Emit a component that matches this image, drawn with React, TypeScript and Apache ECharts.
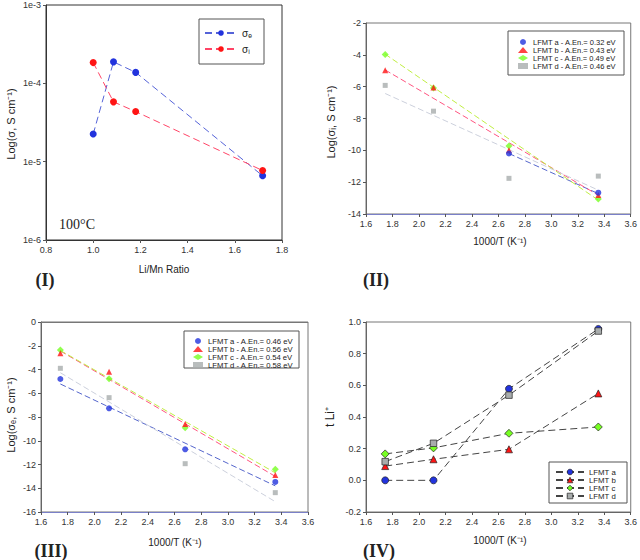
import React, { useEffect, useRef } from "react";
import * as echarts from "echarts";

// ---------- Panel I data ----------
const liMnRatio = [1.0, 1.086, 1.18, 1.718];
const sigmaE_I = [2.25e-5, 1.88e-4, 1.38e-4, 6.6e-6];
const sigmaI_I = [1.84e-4, 5.8e-5, 4.36e-5, 7.7e-6];

// ---------- common temperatures (1000/T) ----------
const invT = [1.745, 2.11, 2.68, 3.355];

// ---------- Panel II data: Log(sigma_i) ----------
const namesII = [
  "LFMT a - A.En.= 0.32 eV",
  "LFMT b - A.En.= 0.43 eV",
  "LFMT c - A.En.= 0.49 eV",
  "LFMT d - A.En.= 0.46 eV",
];
const ionA = [null, null, -10.2, -12.66];
const ionB = [-4.97, -6.05, -9.99, -12.8];
const ionC = [-3.98, -6.08, -9.72, -13.06];
const ionD = [-5.92, -7.54, -11.76, -11.62];
// fitted-line endpoints [x0, y0, x1, y1]
const fitIonA = [2.68, -10.2, 3.355, -12.72];
const fitIonB = [1.745, -4.95, 3.355, -12.82];
const fitIonC = [1.745, -3.96, 3.355, -13.13];
const fitIonD = [1.745, -6.43, 3.355, -12.5];

// ---------- Panel III data: Log(sigma_e) ----------
const namesIII = [
  "LFMT a - A.En.= 0.46 eV",
  "LFMT b - A.En.= 0.56 eV",
  "LFMT c - A.En.= 0.54 eV",
  "LFMT d - A.En.= 0.58 eV",
];
const eleA = [-4.8, -7.27, -10.72, -13.47];
const eleB = [-2.64, -4.18, -8.59, -12.88];
const eleC = [-2.36, -4.77, -8.9, -12.4];
const eleD = [-3.9, -6.37, -11.93, -14.37];
const fitEleA = [1.745, -5.22, 3.355, -13.8];
const fitEleB = [1.745, -2.44, 3.355, -13.0];
const fitEleC = [1.745, -2.4, 3.355, -12.7];
const fitEleD = [1.745, -4.27, 3.355, -15.13];

// ---------- Panel IV data: t Li+ ----------
const namesIV = ["LFMT a", "LFMT b", "LFMT c", "LFMT d"];
const tA = [0.0, 0.0, 0.578, 0.956];
const tB = [0.09, 0.133, 0.196, 0.549];
const tC = [0.167, 0.205, 0.297, 0.337];
const tD = [0.118, 0.234, 0.538, 0.943];

// ticks
const xTicksI = { min: 0.8, max: 1.8, interval: 0.2 };
const xTicksT = { min: 1.6, max: 3.6, interval: 0.2 };
const yTicksII = { min: -14, max: -2, interval: 2 };
const yTicksIII = { min: -16, max: 0, interval: 2 };
const yTicksIV = { min: -0.2, max: 1.0, interval: 0.2 };
const yLogI = { min: 1e-6, max: 1e-3 };

const FONT = "Liberation Sans, Arial, sans-serif";
const SERIF = "Liberation Serif, Times New Roman, serif";

const BLUE = "#2233dd";
const RED = "#ff1414";
const GREEN = "#77ff22";
const GRAY = "#a8acac";

function pairs(xs: number[], ys: (number | null)[]) {
  const out: number[][] = [];
  xs.forEach((x, i) => {
    const y = ys[i];
    if (y !== null && y !== undefined) out.push([x, y]);
  });
  return out;
}
function seg(f: number[]) {
  return [
    [f[0], f[1]],
    [f[2], f[3]],
  ];
}

export default function App() {
  const ref = useRef<HTMLDivElement>(null);
  useEffect(() => {
    if (!ref.current) return;
    const chart = echarts.init(ref.current, undefined, { renderer: "svg" });

    const axisLabel = (fmt: (v: number) => string) => ({
      fontSize: 9,
      color: "#333",
      fontFamily: FONT,
      margin: 5,
      formatter: fmt,
    });
    const tick = { show: true, inside: false, length: 3, lineStyle: { color: "#555" } };
    const fx1 = (v: number) => v.toFixed(1);
    const fx0 = (v: number) => String(Math.round(v));

    const grids = [
      { left: 46, top: 5, width: 236, height: 235, show: true, borderColor: "#333", borderWidth: 1 },
      { left: 366, top: 23, width: 267, height: 191, show: true, borderColor: "#777", borderWidth: 1 },
      { left: 41, top: 322, width: 267, height: 190, show: true, borderColor: "#777", borderWidth: 1 },
      { left: 366, top: 322, width: 267, height: 190, show: true, borderColor: "#777", borderWidth: 1 },
    ];

    const xLine = (c: string) => ({ show: true, onZero: false, lineStyle: { color: c } });
    const xAxes = [
      { gridIndex: 0, type: "value", position: "bottom", ...xTicksI, axisLine: xLine("#333"), axisTick: tick, axisLabel: axisLabel(fx1), splitLine: { show: false } },
      { gridIndex: 1, type: "value", position: "bottom", ...xTicksT, axisLine: xLine("#7a80c8"), axisTick: tick, axisLabel: axisLabel(fx1), splitLine: { show: false } },
      { gridIndex: 2, type: "value", position: "bottom", ...xTicksT, axisLine: xLine("#7a80c8"), axisTick: tick, axisLabel: axisLabel(fx1), splitLine: { show: false } },
      { gridIndex: 3, type: "value", position: "bottom", ...xTicksT, axisLine: xLine("#666"), axisTick: tick, axisLabel: axisLabel(fx1), splitLine: { show: false } },
    ];
    const yLine = { show: true, onZero: false, lineStyle: { color: "#666" } };
    const yAxes = [
      {
        gridIndex: 0, type: "log", logBase: 10, ...yLogI,
        axisLine: { show: true, onZero: false, lineStyle: { color: "#333" } }, axisTick: tick,
        axisLabel: axisLabel((v: number) => "1e" + Math.round(Math.log10(v))),
        splitLine: { show: false }, minorTick: { show: false },
      },
      { gridIndex: 1, type: "value", ...yTicksII, axisLine: yLine, axisTick: tick, axisLabel: axisLabel(fx0), splitLine: { show: false } },
      { gridIndex: 2, type: "value", ...yTicksIII, axisLine: yLine, axisTick: tick, axisLabel: axisLabel(fx0), splitLine: { show: false } },
      { gridIndex: 3, type: "value", ...yTicksIV, axisLine: yLine, axisTick: tick, axisLabel: axisLabel(fx1), splitLine: { show: false } },
    ];

    const markerColors = [BLUE, RED, GREEN, GRAY];
    const shapes = ["circle", "triangle", "diamond", "rect"];
    const shapeSizes = [6, 6, 7, 5];

    const series: any[] = [];
    // Panel I
    series.push({
      name: "σₑ", type: "line", xAxisIndex: 0, yAxisIndex: 0,
      data: pairs(liMnRatio, sigmaE_I), symbol: "circle", symbolSize: 7,
      itemStyle: { color: BLUE }, lineStyle: { color: "#5563d8", width: 1, type: [7, 4] },
    });
    series.push({
      name: "σᵢ", type: "line", xAxisIndex: 0, yAxisIndex: 0,
      data: pairs(liMnRatio, sigmaI_I), symbol: "circle", symbolSize: 7,
      itemStyle: { color: RED }, lineStyle: { color: "#ff4466", width: 1, type: [7, 4] },
    });

    // Panel II fit lines
    const fitColors = ["#5566cc", "#ff5580", "#c0ee44", "#ccd0dc"];
    [fitIonA, fitIonB, fitIonC, fitIonD].forEach((f, i) => {
      series.push({
        type: "line", xAxisIndex: 1, yAxisIndex: 1, data: seg(f), showSymbol: false, symbol: "none",
        lineStyle: { color: fitColors[i], width: 1, type: [6, 3] }, silent: true, z: 1,
      });
    });
    [ionD, ionC, ionB, ionA].forEach((ys, k) => {
      const i = 3 - k;
      series.push({
        name: namesII[i], type: "scatter", xAxisIndex: 1, yAxisIndex: 1, data: pairs(invT, ys),
        symbol: shapes[i], symbolSize: shapeSizes[i], itemStyle: { color: markerColors[i] },
      });
    });

    // Panel III
    [fitEleA, fitEleB, fitEleC, fitEleD].forEach((f, i) => {
      series.push({
        type: "line", xAxisIndex: 2, yAxisIndex: 2, data: seg(f), showSymbol: false, symbol: "none",
        lineStyle: { color: fitColors[i], width: 1, type: [6, 3] }, silent: true, z: 1,
      });
    });
    [eleD, eleC, eleB, eleA].forEach((ys, k) => {
      const i = 3 - k;
      series.push({
        name: namesIII[i], type: "scatter", xAxisIndex: 2, yAxisIndex: 2, data: pairs(invT, ys),
        symbol: shapes[i], symbolSize: shapeSizes[i], itemStyle: { color: markerColors[i] },
      });
    });

    // Panel IV
    const ivSizes = [7, 7, 8, 6.5];
    [tA, tB, tC, tD].forEach((ys, i) => {
      series.push({
        name: namesIV[i], type: "line", xAxisIndex: 3, yAxisIndex: 3, data: pairs(invT, ys),
        symbol: shapes[i], symbolSize: ivSizes[i],
        itemStyle: { color: markerColors[i], borderColor: "#222", borderWidth: 0.7 },
        lineStyle: { color: "#444", width: 1, type: [7, 4] },
      });
    });

    const legendText = (size: number, lh: number) => ({
      fontSize: size, fontFamily: FONT, color: "#222", lineHeight: lh,
    });
    const legends = [
      {
        data: ["σₑ", "σᵢ"], orient: "vertical", left: 204, top: 27, itemWidth: 32, itemHeight: 7,
        itemGap: 4, padding: 0, textStyle: legendText(10, 12), selectedMode: false,
      },
      {
        data: namesII, orient: "vertical", left: 518, top: 38, itemWidth: 10, itemHeight: 6,
        itemGap: 0, padding: 0, textStyle: legendText(7.5, 6.1), selectedMode: false,
      },
      {
        data: namesIII, orient: "vertical", left: 193, top: 337, itemWidth: 10, itemHeight: 6,
        itemGap: 0, padding: 0, textStyle: legendText(7.7, 7.3), selectedMode: false,
      },
      {
        data: namesIV.map((n, i) => ({
          name: n,
          itemStyle: { color: markerColors[i], borderColor: "#222", borderWidth: 0.7 },
        })),
        orient: "vertical", left: 555, top: 468, itemWidth: 28, itemHeight: 7,
        itemGap: 0, padding: 0, textStyle: legendText(7.8, 7.8), selectedMode: false,
      },
    ];

    const txt = (x: number, y: number, text: string, fontSize: number, extra: any = {}) => ({
      type: "text", x, y, z: 10, ...extra,
      style: {
        text, fontSize, fontFamily: FONT, fill: "#222",
        textAlign: "center", textVerticalAlign: "middle", ...(extra.style || {}),
      },
    });
    const box = (x: number, y: number, w: number, h: number) => ({
      type: "rect", shape: { x, y, width: w, height: h }, z: 0,
      style: { fill: "#fff", stroke: "#555", lineWidth: 1 },
    });
    const rot = { rotation: Math.PI / 2 };

    const graphic = [
      box(199, 19, 65, 45),
      box(508, 31, 116, 44),
      box(184, 331, 115, 37),
      box(549, 462, 78, 41),
      {
        type: "line", z: 20, shape: { x1: 41, y1: 322.5, x2: 308, y2: 322.5 },
        style: { stroke: "#777", lineWidth: 1 },
      },
      txt(164, 269, "Li/Mn Ratio", 10),
      txt(500, 241, "1000/T (K⁻¹)", 10),
      txt(175, 542, "1000/T (K⁻¹)", 10),
      txt(500, 540, "1000/T (K⁻¹)", 10),
      txt(11, 124, "Log(σ, S cm⁻¹)", 11, rot),
      txt(331, 122, "Log(σᵢ, S cm⁻¹)", 11, rot),
      txt(11, 415, "Log(σₑ, S cm⁻¹)", 11, rot),
      txt(330, 417, "t Li⁺", 12, rot),
      txt(77, 224, "100°C", 14, { style: { fontFamily: SERIF } }),
      txt(45, 280, "(I)", 18, { style: { fontFamily: SERIF, fontWeight: "bold" } }),
      txt(376, 280, "(II)", 18, { style: { fontFamily: SERIF, fontWeight: "bold" } }),
      txt(51, 551, "(III)", 18, { style: { fontFamily: SERIF, fontWeight: "bold" } }),
      txt(379, 551, "(IV)", 18, { style: { fontFamily: SERIF, fontWeight: "bold" } }),
    ];

    chart.setOption({
      animation: false,
      backgroundColor: "#fff",
      grid: grids,
      xAxis: xAxes,
      yAxis: yAxes,
      legend: legends,
      series,
      graphic,
    });
    return () => chart.dispose();
  }, []);

  return (
    <div
      ref={ref}
      style={{ position: "fixed", left: 0, top: 0, width: 640, height: 560 }}
    />
  );
}
